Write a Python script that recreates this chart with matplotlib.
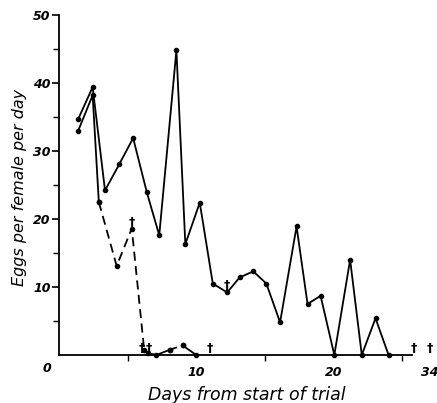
import matplotlib
matplotlib.use("Agg")
import matplotlib.pyplot as plt

# Data
a_x = [1.4, 2.45, 3.35, 4.4, 5.4, 6.4, 7.3, 8.55, 9.2, 10.25, 11.2, 12.25, 13.15,
       14.15, 15.1, 16.1, 17.3, 18.1, 19.05, 20.05, 21.2, 22.05, 23.05, 24.0]
a_y = [34.7, 39.4, 24.2, 28.1, 31.9, 23.9, 17.6, 44.8, 16.3, 22.4, 10.5, 9.2, 11.4,
       12.3, 10.5, 4.8, 18.9, 7.5, 8.7, 0.0, 14.0, 0.0, 5.4, 0.0]

b_solid_x = [1.4, 2.45, 2.9]
b_solid_y = [33.0, 38.2, 22.5]
b_dash_x = [2.9, 4.2, 5.3, 6.2]
b_dash_y = [22.5, 13.1, 18.6, 0.8]
b_tail_x = [6.45, 7.1, 8.1, 9.0, 10.0]
b_tail_y = [0.3, 0.0, 0.8, 1.4, 0.0]

deaths_x = [5.3, 6.05, 6.55, 11.0, 12.25, 25.8, 27.0]
deaths_y = [18.6, 0.0, 0.0, 0.0, 9.2, 0.0, 0.0]

x_major = [10, 20, 27]
x_major_labels = ["10", "20", "34"]
x_minor = [5, 15, 25]
y_major = [10, 20, 30, 40, 50]
y_minor = [5, 15, 25, 35, 45]

plt.rcParams['font.family'] = ['DejaVu Sans']

fig = plt.figure(figsize=(4.37, 4.03), dpi=100)
ax = fig.add_axes([59/437, 48/403, 379/437, 340/403])

lw = 1.3
ax.plot(a_x, a_y, '-', color='black', lw=lw, marker='o', ms=3, clip_on=False)
ax.plot(b_solid_x, b_solid_y, '-', color='black', lw=lw, marker='o', ms=3, clip_on=False)
ax.plot(b_dash_x, b_dash_y, '--', color='black', lw=lw, dashes=(5, 3), marker='o', ms=3, clip_on=False)
ax.plot(b_tail_x[:3], b_tail_y[:3], '-', color='black', lw=lw, marker='o', ms=3, clip_on=False)
ax.plot(b_tail_x[2:4], b_tail_y[2:4], '--', color='black', lw=lw, dashes=(4, 3), marker='o', ms=3, clip_on=False)
ax.plot(b_tail_x[3:], b_tail_y[3:], '-', color='black', lw=lw, marker='o', ms=3, clip_on=False)

for dx, dy in zip(deaths_x, deaths_y):
    ax.text(dx, dy, '†', ha='center', va='bottom', fontsize=9, fontweight='bold',
            color='black')

ax.set_xlim(0, 27.6)
ax.set_ylim(0, 50)
ax.spines['top'].set_visible(False)
ax.spines['right'].set_visible(False)
ax.spines['bottom'].set_bounds(0, 25.7)
ax.spines['left'].set_linewidth(1.3)
ax.spines['bottom'].set_linewidth(1.3)

ax.set_xticks(x_major)
ax.set_xticklabels(x_major_labels, fontsize=9, style='italic', fontweight='bold')
ax.set_xticks(x_minor, minor=True)
ax.set_yticks(y_major)
ax.set_yticklabels([str(v) for v in y_major], fontsize=9, style='italic', fontweight='bold')
ax.set_yticks(y_minor, minor=True)
ax.tick_params(axis='x', which='major', length=0, pad=8)
ax.tick_params(axis='x', which='minor', length=4, direction='out', width=1)
ax.tick_params(axis='y', which='major', length=5, width=1.2, pad=1)
ax.tick_params(axis='y', which='minor', length=4, width=1)

ax.annotate('0', xy=(0, 0), xytext=(-9, -10), textcoords='offset points',
            ha='center', va='center', fontsize=9, style='italic', fontweight='bold',
            annotation_clip=False)

ax.set_xlabel('Days from start of trial', fontsize=12.5, style='italic')
ax.xaxis.set_label_coords((247 - 59) / 379, -0.09)
ax.set_ylabel('Eggs per female per day', fontsize=11.5, style='italic')
ax.yaxis.set_label_coords(-0.085, (355 - 187) / 340)

fig.savefig('out.png', dpi=100)
